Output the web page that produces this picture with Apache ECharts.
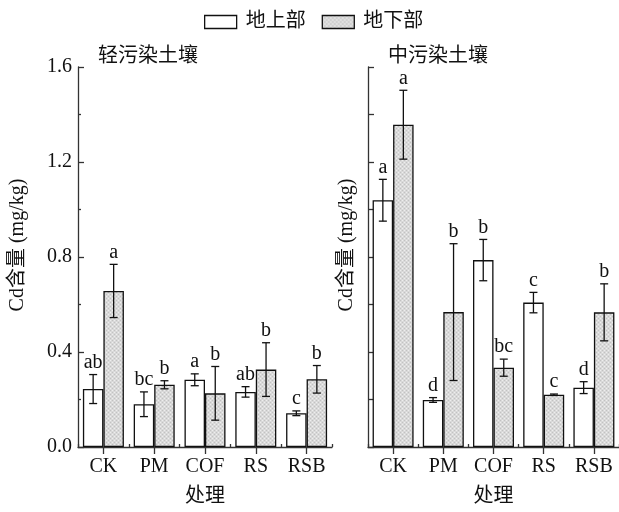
<!DOCTYPE html>
<html>
<head>
<meta charset="utf-8">
<script src="https://cdn.jsdelivr.net/npm/echarts@6/dist/echarts.min.js"></script>
<style>html,body{margin:0;padding:0;background:#fff}#c{width:619px;height:512px}</style>
</head>
<body>
<div id="c"></div>
<script>
var categories = ['CK', 'PM', 'COF', 'RS', 'RSB'];
var seriesNames = ['地上部', '地下部'];
var panelTitles = ['轻污染土壤', '中污染土壤'];
var yTicks = [0, 0.4, 0.8, 1.2, 1.6];

var lightAbove    = [0.244, 0.180, 0.283, 0.232, 0.142];
var lightAboveErr = [0.061, 0.052, 0.025, 0.022, 0.010];
var lightAboveSig = ['ab', 'bc', 'a', 'ab', 'c'];
var lightBelow    = [0.657, 0.262, 0.226, 0.326, 0.285];
var lightBelowErr = [0.112, 0.017, 0.113, 0.113, 0.058];
var lightBelowSig = ['a', 'b', 'b', 'b', 'b'];

var modAbove    = [1.039, 0.198, 0.787, 0.608, 0.250];
var modAboveErr = [0.088, 0.010, 0.087, 0.043, 0.025];
var modAboveSig = ['a', 'd', 'b', 'c', 'd'];
var modBelow    = [1.357, 0.568, 0.334, 0.220, 0.567];
var modBelowErr = [0.145, 0.288, 0.036, 0.003, 0.120];
var modBelowSig = ['a', 'b', 'bc', 'c', 'b'];

var FONT = '"Liberation Serif", "Times New Roman", "Noto Sans CJK SC", serif';
var INK = '#111';
var BAR_W = 20.5;

// dotted grey fill
var pc = document.createElement('canvas');
pc.width = 4; pc.height = 4;
var pctx = pc.getContext('2d');
pctx.fillStyle = '#d9d9d9'; pctx.fillRect(0, 0, 4, 4);
pctx.fillStyle = '#c2c2c2';
pctx.fillRect(0, 0, 1, 1); pctx.fillRect(2, 2, 1, 1);
pctx.fillStyle = '#eeeeee';
pctx.fillRect(2, 0, 1, 1); pctx.fillRect(0, 2, 1, 1);
var greyFill = { image: pc, repeat: 'repeat' };

var chart = echarts.init(document.getElementById('c'), null, { renderer: 'canvas' });

function errSeries(xi, yi, vals, errs, sigs, side) {
  return {
    type: 'custom',
    xAxisIndex: xi, yAxisIndex: yi,
    silent: true, z: 5,
    data: vals.map(function (v, i) { return [i, v, errs[i]]; }),
    renderItem: function (params, api) {
      var i = api.value(0), v = api.value(1), e = api.value(2);
      var top = api.coord([i, v + e]);
      var bot = api.coord([i, v - e]);
      var x = top[0] + side * BAR_W / 2;
      var c = 4;
      var st = { stroke: INK, lineWidth: 1.3 };
      return {
        type: 'group',
        children: [
          { type: 'line', shape: { x1: x, y1: top[1], x2: x, y2: bot[1] }, style: st },
          { type: 'line', shape: { x1: x - c, y1: top[1], x2: x + c, y2: top[1] }, style: st },
          { type: 'line', shape: { x1: x - c, y1: bot[1], x2: x + c, y2: bot[1] }, style: st },
          { type: 'text', style: { text: sigs[params.dataIndex], x: x, y: top[1] - 2, align: 'center', verticalAlign: 'bottom', font: '20px ' + FONT, fill: INK } }
        ]
      };
    }
  };
}

function barSeries(name, xi, yi, vals, fill) {
  return {
    name: name, type: 'bar', xAxisIndex: xi, yAxisIndex: yi,
    data: vals, barWidth: BAR_W, barGap: '0%',
    itemStyle: { color: fill, borderColor: INK, borderWidth: 1.3 }
  };
}

var axisLine = { show: true, lineStyle: { color: '#333', width: 1.3 } };

function xAxes(gi) {
  return [
    { type: 'category', gridIndex: gi, data: categories,
      axisLine: axisLine,
      axisTick: { show: true, alignWithLabel: true, inside: false, length: 7, interval: 0, lineStyle: { color: '#333', width: 1.3 } },
      axisLabel: { fontFamily: FONT, fontSize: 20, color: INK, margin: 10, interval: 0, hideOverlap: false },
      name: '处理', nameLocation: 'middle', nameGap: 40,
      nameTextStyle: { fontFamily: FONT, fontSize: 20, color: INK },
      splitLine: { show: false } },
    { type: 'category', gridIndex: gi, data: categories, position: 'bottom',
      axisLine: { show: false },
      axisTick: { show: true, alignWithLabel: false, inside: true, length: 3, interval: 0, lineStyle: { color: '#333', width: 1.3 } },
      axisLabel: { show: false }, splitLine: { show: false } }
  ];
}

var option = {
  animation: false,
  backgroundColor: '#fff',
  legend: {
    data: seriesNames, left: 199, top: 7, icon: 'rect', itemWidth: 32, itemHeight: 13, itemGap: 16,
    textStyle: { fontFamily: FONT, fontSize: 20, color: INK, padding: [0, 0, 0, 4] },
    itemStyle: { borderColor: INK, borderWidth: 1.3 }
  },
  title: [
    { text: panelTitles[0], left: 93, top: 42, textStyle: { fontFamily: FONT, fontSize: 20, fontWeight: 'normal', color: INK } },
    { text: panelTitles[1], left: 383, top: 42, textStyle: { fontFamily: FONT, fontSize: 20, fontWeight: 'normal', color: INK } }
  ],
  graphic: [
    { type: 'text', x: 18, y: 245, rotation: Math.PI / 2, style: { text: 'Cd含量 (mg/kg)', font: '20px ' + FONT, fill: INK, align: 'center', verticalAlign: 'middle' } },
    { type: 'text', x: 347, y: 245, rotation: Math.PI / 2, style: { text: 'Cd含量 (mg/kg)', font: '20px ' + FONT, fill: INK, align: 'center', verticalAlign: 'middle' } }
  ],
  grid: [
    { left: 78, top: 67, width: 254, height: 380 },
    { left: 368, top: 67, width: 253, height: 380 }
  ],
  xAxis: xAxes(0).concat(xAxes(1)),
  yAxis: [
    { type: 'value', gridIndex: 0, min: 0, max: 1.6, interval: 0.4,
      axisLine: axisLine,
      axisTick: { show: true, inside: true, length: 6, lineStyle: { color: '#333', width: 1.3 } },
      minorTick: { show: true, splitNumber: 2, length: 3, lineStyle: { color: '#333', width: 1.3 } },
      axisLabel: { fontFamily: FONT, fontSize: 20, color: INK, margin: 6,
        formatter: function (v) { return yTicks.indexOf(Math.round(v * 10) / 10) >= 0 ? v.toFixed(1) : ''; } },
      splitLine: { show: false } },
    { type: 'value', gridIndex: 1, min: 0, max: 1.6, interval: 0.2,
      axisLine: axisLine,
      axisTick: { show: true, inside: true, length: 6, lineStyle: { color: '#333', width: 1.3 } },
      axisLabel: { show: false },
      splitLine: { show: false } }
  ],
  series: [
    barSeries(seriesNames[0], 0, 0, lightAbove, '#ffffff'),
    barSeries(seriesNames[1], 0, 0, lightBelow, greyFill),
    errSeries(0, 0, lightAbove, lightAboveErr, lightAboveSig, -1),
    errSeries(0, 0, lightBelow, lightBelowErr, lightBelowSig, 1),
    barSeries(seriesNames[0], 2, 1, modAbove, '#ffffff'),
    barSeries(seriesNames[1], 2, 1, modBelow, greyFill),
    errSeries(2, 1, modAbove, modAboveErr, modAboveSig, -1),
    errSeries(2, 1, modBelow, modBelowErr, modBelowSig, 1)
  ]
};
chart.setOption(option);
</script>
</body>
</html>
